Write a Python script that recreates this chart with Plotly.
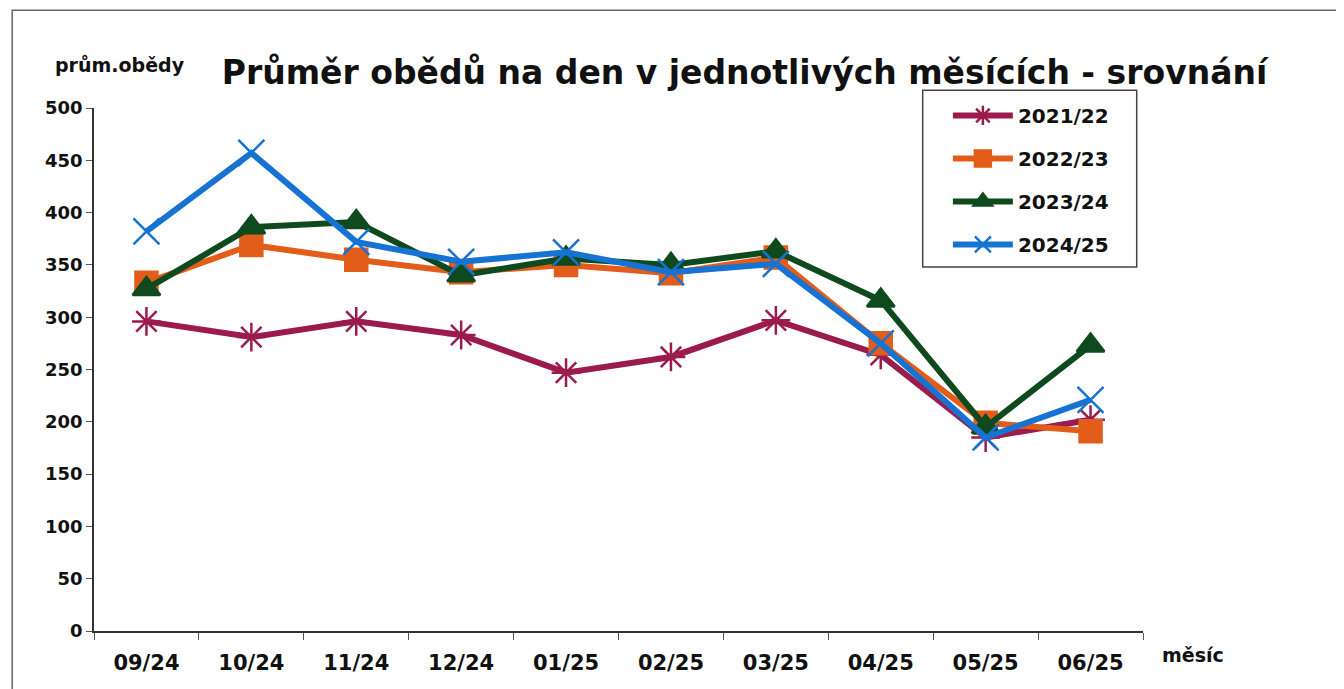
import plotly.graph_objects as go

months = ["09/24", "10/24", "11/24", "12/24", "01/25", "02/25", "03/25", "04/25", "05/25", "06/25"]

y2122 = [296, 281, 296, 283, 247, 262, 297, 264, 185, 202]
y2223 = [333, 369, 355, 343, 350, 342, 357, 275, 199, 191]
y2324 = [327, 386, 391, 340, 356, 350, 363, 316, 195, 273]
y2425 = [382, 457, 372, 353, 362, 343, 351, 275, 185, 221]

series = [
    ("2021/22", y2122, "#9b1b4d", "asterisk-open", 24),
    ("2022/23", y2223, "#e35d1a", "square", 22),
    ("2023/24", y2324, "#0e4a1d", "triangle-up", 24),
    ("2024/25", y2425, "#1673d2", "x-thin-open", 26),
]

FONT = "DejaVu Sans"

fig = go.Figure()
for name, vals, color, sym, size in series:
    fig.add_trace(go.Scatter(
        x=months, y=vals, name=name, legendgroup=name,
        mode="lines+markers",
        line=dict(color=color, width=6),
        marker=dict(symbol=sym, size=size, color=color,
                    line=dict(color=color, width=2.5)),
    ))

# the page body has an 8px margin, so the margins are shifted by 8px
fig.update_layout(
    width=1344, height=689,
    paper_bgcolor="white", plot_bgcolor="white",
    margin=dict(l=86, r=209, t=100, b=66),
    font=dict(family=FONT, color="#111111", size=18, weight="bold"),
    title=dict(text="Průměr obědů na den v jednotlivých měsících - srovnání",
               x=0.548, xanchor="center", y=0.907, yanchor="middle",
               font=dict(size=33, family=FONT, color="#111111", weight="bold")),
    xaxis=dict(type="category", range=[-0.5, 9.5], showgrid=False,
               showline=True, linecolor="#333333", linewidth=1.5,
               ticks="outside", tickson="boundaries", ticklen=7, tickcolor="#555555",
               ticklabelstandoff=12,
               tickfont=dict(size=21, family=FONT, weight="bold")),
    yaxis=dict(range=[0, 500], dtick=50, showgrid=False, zeroline=False,
               showline=True, linecolor="#333333", linewidth=1.5,
               ticks="outside", ticklen=6, tickcolor="#555555",
               tickfont=dict(size=18, family=FONT, weight="bold")),
    legend=dict(x=0.814, y=1.023, xanchor="left", yanchor="top",
                borderwidth=0, bgcolor="rgba(0,0,0,0)",
                font=dict(size=20, family=FONT, weight="bold"),
                itemwidth=60, tracegroupgap=14, traceorder="grouped"),
    showlegend=True,
)

fig.add_annotation(text="prům.obědy", xref="paper", yref="paper",
                   x=0.025, y=1.083, xanchor="center", yanchor="middle",
                   showarrow=False, font=dict(size=19, family=FONT, weight="bold"))
fig.add_annotation(text="měsíc", xref="paper", yref="paper",
                   x=1.048, y=-0.046, xanchor="center", yanchor="middle",
                   showarrow=False, font=dict(size=19, family=FONT, weight="bold"))

# legend box
fig.add_shape(type="rect", xref="paper", yref="paper",
              x0=0.790, x1=0.994, y0=0.696, y1=1.034,
              line=dict(color="#444444", width=1.5), fillcolor="white", layer="below")

# outer chart frame
fig.add_shape(type="rect", xref="paper", yref="paper",
              x0=-0.078, x1=1.3, y0=-0.3, y1=1.187,
              line=dict(color="#666666", width=1.5), layer="below")

fig.write_html("out.html")
